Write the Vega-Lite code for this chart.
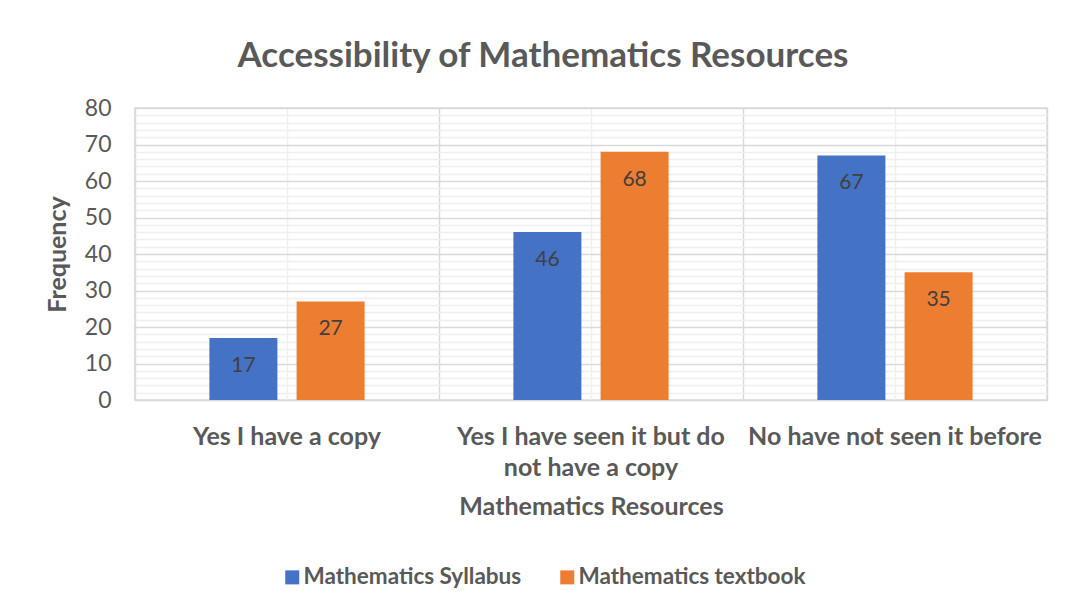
{
  "$schema": "https://vega.github.io/schema/vega-lite/v6.json",
  "width": 912,
  "height": 292,
  "autosize": {"type": "none"},
  "padding": {"left": 135, "top": 108, "right": 25, "bottom": 214},
  "background": "white",
  "config": {
    "font": "Lato",
    "view": {"stroke": "#d9d9d9", "strokeWidth": 1.5},
    "axis": {"labelColor": "#595959", "titleColor": "#595959", "domain": false, "ticks": false}
  },
  "title": {
    "text": "Accessibility of Mathematics Resources",
    "fontSize": 35,
    "fontWeight": "bold",
    "color": "#595959",
    "anchor": "middle",
    "dx": -48,
    "offset": 23
  },
  "data": {
    "values": [
      {"category": "Yes I have a copy", "series": "Mathematics Syllabus", "value": 17},
      {"category": "Yes I have a copy", "series": "Mathematics textbook", "value": 27},
      {"category": "Yes I have seen it but do not have a copy", "series": "Mathematics Syllabus", "value": 46},
      {"category": "Yes I have seen it but do not have a copy", "series": "Mathematics textbook", "value": 68},
      {"category": "No have not seen it before", "series": "Mathematics Syllabus", "value": 67},
      {"category": "No have not seen it before", "series": "Mathematics textbook", "value": 35}
    ]
  },
  "resolve": {"axis": {"x": "independent"}},
  "encoding": {
    "y": {
      "field": "value",
      "type": "quantitative",
      "scale": {"domain": [0, 80], "nice": false},
      "axis": {
        "title": "Frequency",
        "titleFontSize": 25,
        "titleFontWeight": "bold",
        "titlePadding": 14,
        "labelFontSize": 23,
        "labelPadding": 24,
        "values": [0,2,4,6,8,10,12,14,16,18,20,22,24,26,28,30,32,34,36,38,40,42,44,46,48,50,52,54,56,58,60,62,64,66,68,70,72,74,76,78,80],
        "labelExpr": "datum.value % 10 == 0 ? datum.label : ''",
        "grid": true,
        "gridWidth": 1.5,
        "gridColor": {"condition": {"test": "datum.value % 10 == 0", "value": "#d9d9d9"}, "value": "#efefef"}
      }
    }
  },
  "layer": [
    {
      "mark": {"type": "bar"},
      "encoding": {
        "x": {
          "field": "category",
          "type": "nominal",
          "sort": null,
          "scale": {"paddingInner": 0, "paddingOuter": 0},
          "axis": {
            "orient": "bottom",
            "title": "Mathematics Resources",
            "titleFontSize": 25,
            "titleFontWeight": "bold",
            "titlePadding": 14,
            "labelAngle": 0,
            "labelFontSize": 25,
            "labelFontWeight": "bold",
            "labelPadding": 36,
            "labelLineHeight": 31,
            "labelBaseline": "middle",
            "labelLimit": 400,
            "grid": true,
            "gridColor": "#f0f0f0",
            "gridWidth": 1.5,
            "labelExpr": "datum.value == 'Yes I have seen it but do not have a copy' ? ['Yes I have seen it but do', 'not have a copy'] : datum.value"
          }
        },
        "xOffset": {
          "field": "series",
          "type": "nominal",
          "scale": {"paddingInner": 0.22, "paddingOuter": 0.853}
        },
        "color": {
          "field": "series",
          "type": "nominal",
          "scale": {"range": ["#4472C4", "#ED7D31"]},
          "legend": {
            "title": null,
            "orient": "none",
            "direction": "horizontal",
            "legendX": 146,
            "legendY": 458,
            "symbolType": "square",
            "symbolSize": 196,
            "symbolStrokeWidth": 0,
            "labelFontSize": 22.5,
            "labelFontWeight": "bold",
            "labelColor": "#595959",
            "labelLimit": 400,
            "columnPadding": 34,
            "labelOffset": 0
          }
        }
      }
    },
    {
      "mark": {"type": "text", "fontSize": 21, "color": "#404040", "baseline": "middle", "dy": 28},
      "encoding": {
        "x": {
          "field": "category",
          "type": "nominal",
          "sort": null,
          "axis": {
            "orient": "top",
            "title": null,
            "labels": false,
            "grid": true,
            "tickBand": "extent",
            "gridColor": "#d9d9d9",
            "gridWidth": 1.5
          }
        },
        "xOffset": {"field": "series", "type": "nominal"},
        "text": {"field": "value", "type": "quantitative"}
      }
    }
  ]
}
